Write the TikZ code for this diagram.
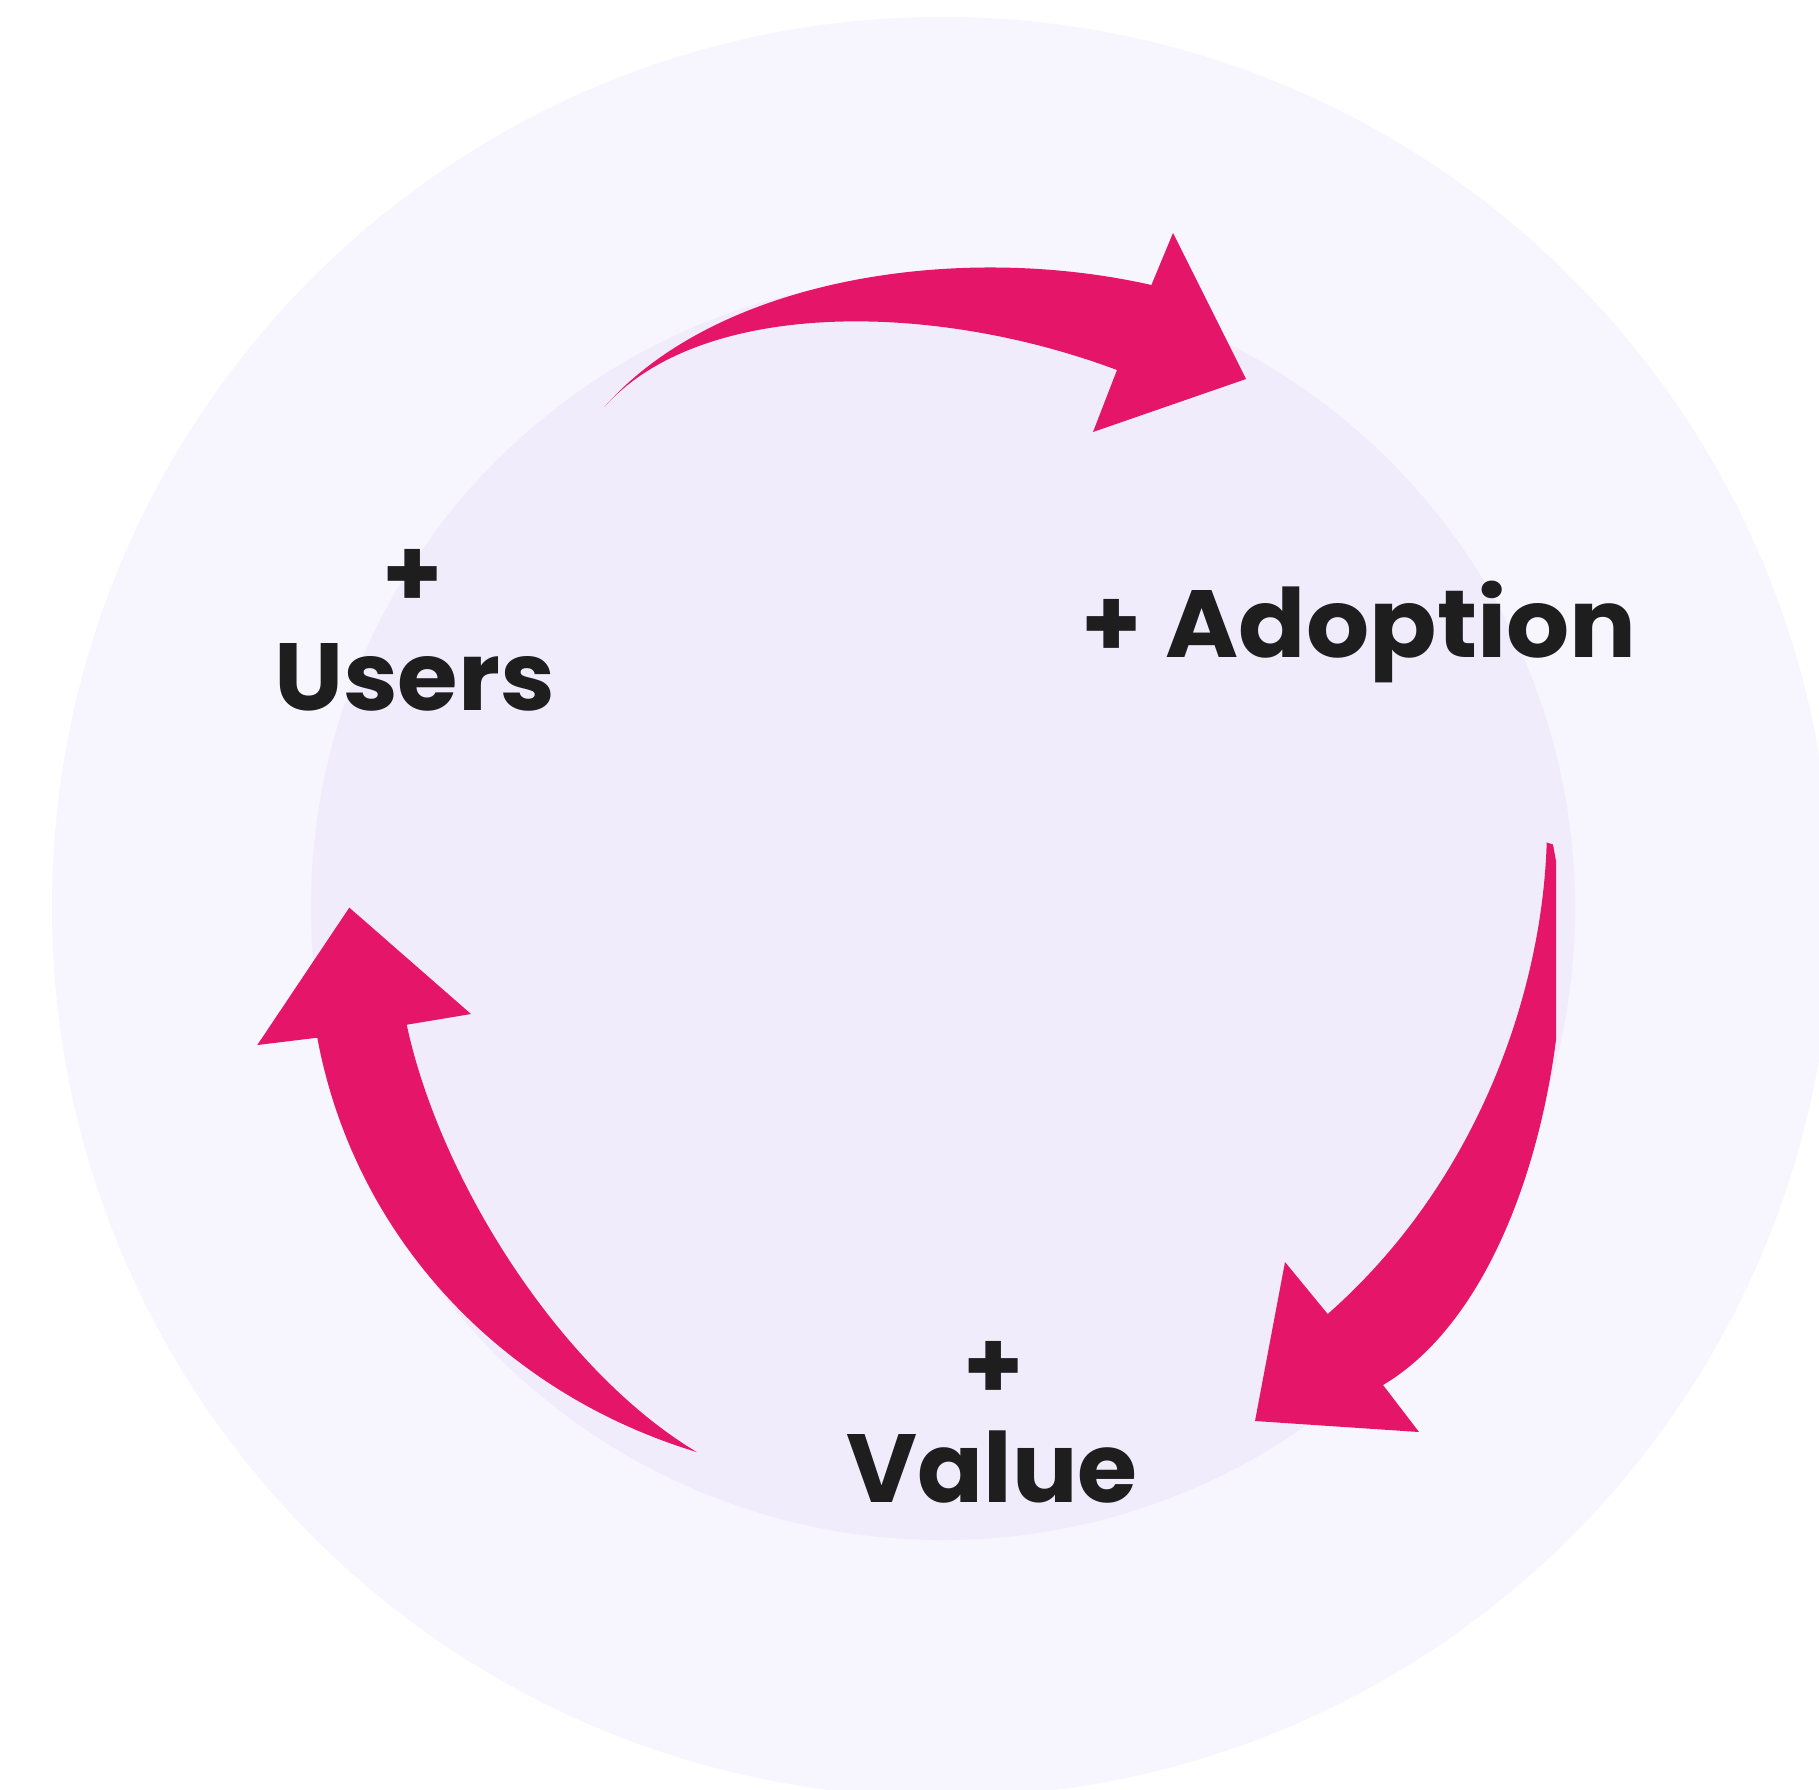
\documentclass[tikz,border=0pt]{standalone}
\usepackage{fontspec}
\usepackage{graphicx}
\newfontfamily\popfont{Poppins}
\definecolor{outerRing}{HTML}{F7F5FE}
\definecolor{innerDisc}{HTML}{F0ECFC}
\definecolor{loopPink}{HTML}{E5166A}
\definecolor{labelInk}{HTML}{1E1E1E}
\newcommand\wordfont{\popfont\bfseries\fontsize{96}{100}\selectfont}
\newsavebox\fitbox
\newsavebox\capbox
\newcommand\fitword[3]{%
  \sbox\fitbox{\wordfont #3}%
  \sbox\capbox{\wordfont H}%
  \pgfmathsetmacro\fitsx{#1/\the\wd\fitbox}%
  \pgfmathsetmacro\fitsy{#2/\the\ht\capbox}%
  \scalebox{\fitsx}[\fitsy]{\usebox\fitbox}}
\tikzset{
  arrowfill/.style={fill=loopPink},
  wordlabel/.style={inner sep=0pt, outer sep=0pt, text=labelInk, anchor=base west},
  pluslabel/.style={inner sep=0pt, outer sep=0pt, text=labelInk, anchor=north, font=\wordfont},
}
\begin{document}
\begin{tikzpicture}[x=1pt,y=-1pt]
\useasboundingbox (0,0) rectangle (1819,1789);
\clip (0,0) rectangle (1819,1789);
\fill[white] (0,0) rectangle (1819,1789);
\fill[outerRing] (942,907) circle[radius=890];
\fill[innerDisc] (943,908) circle[radius=632];

% top arrow (Users -> Adoption)
\coordinate (topTail) at (604.6,406.7);
\fill[arrowfill] (topTail)
  .. controls (716.8,279.2) and (956.4,241) .. (1151.4,285)
  -- (1173,233) -- (1246,379) -- (1093,432) -- (1117,370)
  .. controls (930,300) and (700,300) .. (topTail)
  -- cycle;

% right arrow (Adoption -> Value)
\coordinate (rightTail) at (1546.7,842.4);
\fill[arrowfill] (rightTail) -- (1553,844.5) -- (1556,861) -- (1556,1040)
  .. controls (1536.5,1188.5) and (1477.6,1328.9) .. (1383,1385)
  -- (1419,1432) -- (1255,1421) -- (1285,1262) -- (1327.7,1314)
  .. controls (1477.7,1182) and (1542.2,992.4) .. (rightTail)
  -- cycle;

% left arrow (Value -> Users)
\coordinate (leftTail) at (696.7,1452);
\fill[arrowfill] (349.3,907.6) -- (471,1014) -- (406.7,1024.7)
  .. controls (440,1180) and (560,1370) .. (leftTail)
  .. controls (504.7,1394) and (355,1240) .. (317.3,1037.7)
  -- (257.3,1045) -- cycle;

% labels
\node[pluslabel] (usersplus) at (412.5,549) {+};
\node[wordlabel] (users) at (274,710.7) {\fitword{281}{67}{Users}};

\node[wordlabel] (adoption) at (1081.5,657.7) {{\wordfont +}\hspace{24pt}\fitword{471}{67}{Adoption}};

\node[pluslabel] (valueplus) at (993.3,1341) {+};
\node[wordlabel] (value) at (846.5,1502.7) {\fitword{291}{68}{Value}};
\end{tikzpicture}
\end{document}
